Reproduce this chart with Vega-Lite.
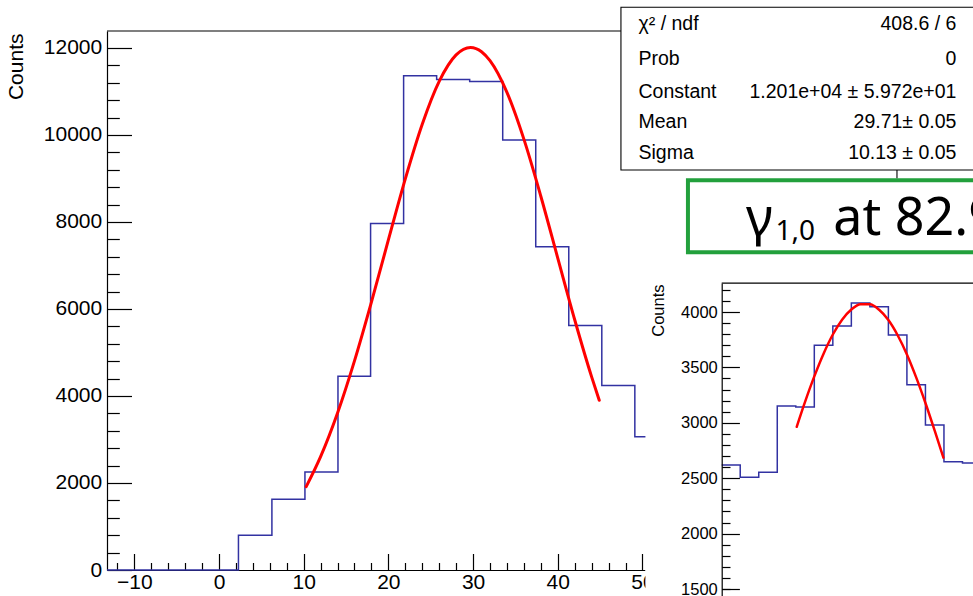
{
  "$schema": "https://vega.github.io/schema/vega-lite/v6.json",
  "width": 538,
  "height": 539,
  "autosize": {"type": "none"},
  "padding": {"left": 107, "top": 31, "right": 328, "bottom": 26},
  "background": "white",
  "config": {
    "view": {"stroke": null},
    "axis": {"grid": false, "labelFont": "Liberation Sans", "titleFont": "Liberation Sans", "labelColor": "black", "titleColor": "black", "domainColor": "black", "tickColor": "black", "domainWidth": 1.2, "tickWidth": 1.2, "titleFontWeight": "normal", "labelFlush": false, "labelOverlap": false, "format": "d"}
  },
  "datasets": {
    "one": [{}],
    "leftHist": [
      {"x": -13.22, "counts": 0}, {"x": 2.3, "counts": 798}, {"x": 6.25, "counts": 1625}, {"x": 10.15, "counts": 2253},
      {"x": 14.05, "counts": 4455}, {"x": 17.9, "counts": 7965}, {"x": 21.8, "counts": 11360}, {"x": 25.7, "counts": 11273},
      {"x": 29.6, "counts": 11229}, {"x": 33.5, "counts": 9882}, {"x": 37.4, "counts": 7429}, {"x": 41.3, "counts": 5618},
      {"x": 45.2, "counts": 4243}, {"x": 49.1, "counts": 3062}, {"x": 53.0, "counts": 3062}
    ],
    "leftFit": [
      {"x": 10.3, "counts": 1916}, {"x": 12, "counts": 2605}, {"x": 14, "counts": 3608}, {"x": 16, "counts": 4806},
      {"x": 18, "counts": 6157}, {"x": 20, "counts": 7587}, {"x": 22, "counts": 8991}, {"x": 24, "counts": 10246},
      {"x": 26, "counts": 11231}, {"x": 28, "counts": 11840}, {"x": 29.7, "counts": 12010}, {"x": 31, "counts": 11913},
      {"x": 32, "counts": 11707}, {"x": 34, "counts": 10980}, {"x": 36, "counts": 9904}, {"x": 38, "counts": 8592},
      {"x": 40, "counts": 7170}, {"x": 42, "counts": 5753}, {"x": 44, "counts": 4440}, {"x": 44.9, "counts": 3902}
    ],
    "rightHist": [
      {"x": 0, "counts": 2619}, {"x": 1, "counts": 2508}, {"x": 2, "counts": 2553}, {"x": 3, "counts": 3152},
      {"x": 4, "counts": 3143}, {"x": 5, "counts": 3700}, {"x": 6, "counts": 3874}, {"x": 7, "counts": 4081},
      {"x": 8, "counts": 4048}, {"x": 9, "counts": 3792}, {"x": 10, "counts": 3344}, {"x": 11, "counts": 2980},
      {"x": 12, "counts": 2649}, {"x": 13, "counts": 2637}, {"x": 14, "counts": 2637}
    ],
    "rightFit": [
      {"x": 4.05, "counts": 2964}, {"x": 4.5, "counts": 3189}, {"x": 5, "counts": 3419}, {"x": 5.5, "counts": 3624},
      {"x": 6, "counts": 3797}, {"x": 6.5, "counts": 3931}, {"x": 7, "counts": 4023}, {"x": 7.5, "counts": 4070},
      {"x": 8, "counts": 4069}, {"x": 8.5, "counts": 4020}, {"x": 9, "counts": 3927}, {"x": 9.5, "counts": 3790},
      {"x": 10, "counts": 3617}, {"x": 10.5, "counts": 3410}, {"x": 11, "counts": 3179}, {"x": 11.5, "counts": 2929},
      {"x": 11.97, "counts": 2686}
    ],
    "stats": [
      {"label": "χ² / ndf", "value": "408.6 / 6"},
      {"label": "Prob", "value": "0"},
      {"label": "Constant", "value": "1.201e+04 ± 5.972e+01"},
      {"label": "Mean", "value": "29.71± 0.05"},
      {"label": "Sigma", "value": "10.13 ± 0.05"}
    ]
  },
  "layer": [
    {
      "layer": [
        {
          "data": {"name": "leftHist"},
          "mark": {"type": "line", "interpolate": "step-after", "color": "#3232a2", "strokeWidth": 1.5},
          "encoding": {
            "x": {"field": "x", "type": "quantitative", "scale": {"domain": [-13.22, 50.3], "nice": false, "zero": false},
              "axis": {"orient": "bottom", "values": [-10, 0, 10, 20, 30, 40, 50], "tickSize": -16.5, "labelPadding": 18, "labelFontSize": 21, "title": null, "zindex": 0}},
            "y": {"field": "counts", "type": "quantitative", "scale": {"domain": [0, 12390], "nice": false, "zero": false},
              "axis": {"orient": "left", "values": [0, 2000, 4000, 6000, 8000, 10000, 12000], "tickSize": -24.5, "labelPadding": 29.8, "labelFontSize": 21, "title": "Counts", "titleFontSize": 21, "titleAngle": 270, "titleAlign": "right", "titleBaseline": "alphabetic", "titleX": -85, "titleY": 2, "zindex": 0}}
          }
        },
        {
          "data": {"name": "leftFit"},
          "mark": {"type": "line", "interpolate": "monotone", "color": "#ff0000", "strokeWidth": 3, "strokeCap": "round"},
          "encoding": {
            "x": {"field": "x", "type": "quantitative"},
            "y": {"field": "counts", "type": "quantitative"}
          }
        },
        {
          "data": {"name": "one"},
          "mark": {"type": "rect", "fill": "white", "strokeWidth": 0},
          "encoding": {"x": {"datum": 50.35}, "x2": {"datum": 100}, "y": {"datum": -690}, "y2": {"datum": 9172}}
        },
        {
          "data": {"name": "one"},
          "mark": {"type": "rule", "color": "black", "strokeWidth": 1.2},
          "encoding": {"x": {"datum": -13.22}, "x2": {"datum": 47.46}, "y": {"datum": 12390}}
        },
        {
          "data": {"name": "one"},
          "mark": {"type": "rect", "fill": "white", "stroke": "black", "strokeWidth": 1.1},
          "encoding": {"x": {"datum": 47.46}, "x2": {"datum": 89.37}, "y": {"datum": 12935}, "y2": {"datum": 9195}}
        },
        {
          "data": {"name": "one"},
          "mark": {"type": "rule", "color": "black", "strokeWidth": 1.1},
          "encoding": {"x": {"datum": 80.05}, "y": {"datum": 9195}, "y2": {"datum": 8999}}
        },
        {
          "data": {"name": "stats"},
          "transform": [{"filter": "datum.label === 'χ² / ndf'"}],
          "layer": [
            {"mark": {"type": "text", "align": "left", "baseline": "alphabetic", "font": "Liberation Sans", "fontSize": 19.5, "color": "black"},
              "encoding": {"x": {"datum": 49.53}, "y": {"datum": 12424}, "text": {"field": "label"}}},
            {"mark": {"type": "text", "align": "right", "baseline": "alphabetic", "font": "Liberation Sans", "fontSize": 19.5, "color": "black"},
              "encoding": {"x": {"datum": 87.07}, "y": {"datum": 12424}, "text": {"field": "value"}}}
          ]
        },
        {
          "data": {"name": "stats"},
          "transform": [{"filter": "datum.label === 'Prob'"}],
          "layer": [
            {"mark": {"type": "text", "align": "left", "baseline": "alphabetic", "font": "Liberation Sans", "fontSize": 19.5, "color": "black"},
              "encoding": {"x": {"datum": 49.53}, "y": {"datum": 11608}, "text": {"field": "label"}}},
            {"mark": {"type": "text", "align": "right", "baseline": "alphabetic", "font": "Liberation Sans", "fontSize": 19.5, "color": "black"},
              "encoding": {"x": {"datum": 87.07}, "y": {"datum": 11608}, "text": {"field": "value"}}}
          ]
        },
        {
          "data": {"name": "stats"},
          "transform": [{"filter": "datum.label === 'Constant'"}],
          "layer": [
            {"mark": {"type": "text", "align": "left", "baseline": "alphabetic", "font": "Liberation Sans", "fontSize": 19.5, "color": "black"},
              "encoding": {"x": {"datum": 49.53}, "y": {"datum": 10861}, "text": {"field": "label"}}},
            {"mark": {"type": "text", "align": "right", "baseline": "alphabetic", "font": "Liberation Sans", "fontSize": 19.5, "color": "black"},
              "encoding": {"x": {"datum": 87.07}, "y": {"datum": 10861}, "text": {"field": "value"}}}
          ]
        },
        {
          "data": {"name": "stats"},
          "transform": [{"filter": "datum.label === 'Mean'"}],
          "layer": [
            {"mark": {"type": "text", "align": "left", "baseline": "alphabetic", "font": "Liberation Sans", "fontSize": 19.5, "color": "black"},
              "encoding": {"x": {"datum": 49.53}, "y": {"datum": 10149}, "text": {"field": "label"}}},
            {"mark": {"type": "text", "align": "right", "baseline": "alphabetic", "font": "Liberation Sans", "fontSize": 19.5, "color": "black"},
              "encoding": {"x": {"datum": 87.07}, "y": {"datum": 10149}, "text": {"field": "value"}}}
          ]
        },
        {
          "data": {"name": "stats"},
          "transform": [{"filter": "datum.label === 'Sigma'"}],
          "layer": [
            {"mark": {"type": "text", "align": "left", "baseline": "alphabetic", "font": "Liberation Sans", "fontSize": 19.5, "color": "black"},
              "encoding": {"x": {"datum": 49.53}, "y": {"datum": 9459}, "text": {"field": "label"}}},
            {"mark": {"type": "text", "align": "right", "baseline": "alphabetic", "font": "Liberation Sans", "fontSize": 19.5, "color": "black"},
              "encoding": {"x": {"datum": 87.07}, "y": {"datum": 9459}, "text": {"field": "value"}}}
          ]
        },
        {
          "data": {"name": "one"},
          "mark": {"type": "rect", "fill": "white", "stroke": "#22a03c", "strokeWidth": 4},
          "encoding": {"x": {"datum": 55.37}, "x2": {"datum": 89.85}, "y": {"datum": 8958}, "y2": {"datum": 7303}}
        },
        {
          "data": {"name": "one"},
          "mark": {"type": "text", "align": "left", "baseline": "alphabetic", "font": "Noto Sans", "fontSize": 52, "color": "black", "text": "γ"},
          "encoding": {"x": {"datum": 62.22}, "y": {"datum": 7701}}
        },
        {
          "data": {"name": "one"},
          "mark": {"type": "text", "align": "left", "baseline": "alphabetic", "font": "Noto Sans", "fontSize": 28, "color": "black", "text": "1,0"},
          "encoding": {"x": {"datum": 65.7}, "y": {"datum": 7586}}
        },
        {
          "data": {"name": "one"},
          "mark": {"type": "text", "align": "left", "baseline": "alphabetic", "font": "Noto Sans", "fontSize": 52, "color": "black", "text": "at 82.9 keV"},
          "encoding": {"x": {"datum": 72.54}, "y": {"datum": 7701}}
        }
      ]
    },
    {
      "data": {"name": "one"},
      "mark": {"type": "rule", "color": "black", "strokeWidth": 1.2, "opacity": 0},
      "encoding": {
        "x": {"datum": -13.22, "type": "quantitative", "scale": {"domain": [-13.22, 50.3], "nice": false, "zero": false},
          "axis": {"orient": "bottom", "values": [-12, -8, -6, -4, -2, 2, 4, 6, 8, 12, 14, 16, 18, 22, 24, 26, 28, 32, 34, 36, 38, 42, 44, 46, 48], "tickSize": -7.5, "labels": false, "domain": false, "title": null, "zindex": 0}},
        "x2": {"datum": 47.46},
        "y": {"datum": 12390, "type": "quantitative", "scale": {"domain": [0, 12390], "nice": false, "zero": false},
          "axis": {"orient": "left", "values": [400, 800, 1200, 1600, 2400, 2800, 3200, 3600, 4400, 4800, 5200, 5600, 6400, 6800, 7200, 7600, 8400, 8800, 9200, 9600, 10400, 10800, 11200, 11600], "tickSize": -12.3, "labels": false, "domain": false, "title": null, "zindex": 0}}
      }
    },
    {
      "layer": [
        {
          "data": {"name": "rightHist"},
          "mark": {"type": "line", "interpolate": "step-after", "color": "#3232a2", "strokeWidth": 1.5},
          "encoding": {
            "x": {"field": "x", "type": "quantitative", "scale": {"domain": [0, 14], "range": [614.7, 874.0], "nice": false, "zero": false}, "axis": null},
            "y": {"field": "counts", "type": "quantitative", "scale": {"domain": [1400, 4260], "range": [569.1, 252.2], "nice": false, "zero": false},
              "axis": {"orient": "left", "offset": -614.7, "values": [1500, 2000, 2500, 3000, 3500, 4000], "tickSize": -17.7, "labelPadding": 22.1, "labelFontSize": 16.5, "title": "Counts", "titleFontSize": 16.5, "titleAngle": 270, "titleAlign": "right", "titleBaseline": "alphabetic", "titleX": -58.7, "titleY": 253, "zindex": 1}}
          }
        },
        {
          "data": {"name": "rightFit"},
          "mark": {"type": "line", "interpolate": "monotone", "color": "#ff0000", "strokeWidth": 2.5, "strokeCap": "round"},
          "encoding": {
            "x": {"field": "x", "type": "quantitative"},
            "y": {"field": "counts", "type": "quantitative"}
          }
        }
      ]
    },
    {
      "data": {"name": "one"},
      "mark": {"type": "rule", "color": "black", "strokeWidth": 1.2},
      "encoding": {
        "x": {"datum": 0, "type": "quantitative", "scale": {"domain": [0, 14], "range": [614.7, 874.0], "nice": false, "zero": false}, "axis": null},
        "x2": {"datum": 14},
        "y": {"datum": 4260, "type": "quantitative", "scale": {"domain": [1400, 4260], "range": [569.1, 252.2], "nice": false, "zero": false},
          "axis": {"orient": "left", "offset": -614.7, "values": [1500, 1600, 1700, 1800, 1900, 2100, 2200, 2300, 2400, 2600, 2700, 2800, 2900, 3100, 3200, 3300, 3400, 3600, 3700, 3800, 3900, 4100, 4200], "tickSize": -8.3, "labels": false, "domain": false, "title": null, "zindex": 1}}
      }
    }
  ],
  "resolve": {"scale": {"x": "independent", "y": "independent"}, "axis": {"x": "independent", "y": "independent"}}
}
